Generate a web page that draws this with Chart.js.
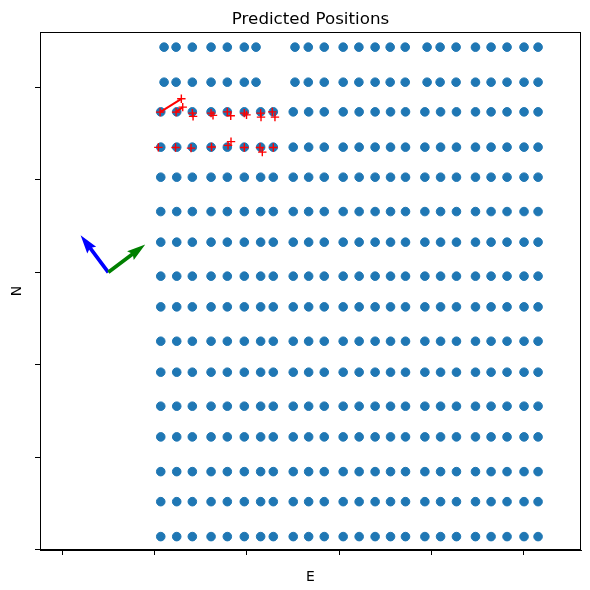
<!DOCTYPE html>
<html>
<head>
<meta charset="utf-8">
<script src="https://cdn.jsdelivr.net/npm/chart.js@4"></script>
<style>
  body { margin: 0; background: #fff; }
</style>
</head>
<body>
<canvas id="myChart" width="590" height="590"></canvas>
<script>
// grid of known positions (E, N)
var fullRowE = [10.68, 12.41, 14.10, 16.13, 17.89, 19.73, 21.50, 22.87, 25.03, 26.70, 28.39, 30.44,
                32.17, 33.90, 35.57, 37.19, 39.29, 40.99, 42.71, 44.77, 46.46, 48.19, 50.03, 51.55];
var shortRowE = [11.04, 12.34, 14.10, 16.13, 17.89, 19.73, 21.00, 25.22, 26.66, 28.39, 30.44, 32.14,
                 33.90, 35.53, 37.16, 39.53, 40.94, 42.67, 44.77, 46.46, 48.19, 50.03, 51.55];
var shortRowsN = [54.36, 50.57];
var fullRowsN = [47.36, 43.54, 40.29, 36.57, 33.26, 29.58, 26.26, 22.54, 19.19, 15.51, 12.19, 8.43, 5.18, 1.40];

// predicted positions
var predE = [10.61, 12.34, 12.91, 13.06, 14.10, 14.18, 16.13, 16.34, 17.89, 18.26, 19.73, 19.97, 21.50, 21.54, 22.76, 23.05,
             10.42, 12.28, 13.96, 16.18, 17.97, 18.29, 19.73, 21.43, 21.68, 22.87];
var predN = [47.33, 47.33, 48.77, 47.87, 47.22, 46.87, 47.22, 46.98, 47.36, 46.93, 47.22, 47.03, 47.22, 46.79, 47.36, 46.79,
             43.52, 43.50, 43.43, 43.55, 43.73, 44.14, 43.50, 43.50, 43.00, 43.50];

// predicted tracks
var track1E = [10.61, 12.91];
var track1N = [47.33, 48.77];
var track2E = [12.34, 13.06];
var track2N = [47.33, 47.87];

// orientation arrows
var arrowE = [5, 5];
var arrowN = [30, 30];
var arrowU = [-3, 4];
var arrowV = [4, 3];
var arrowColors = ['#0000ff', '#008000'];

var xTicks = [0, 10, 20, 30, 40, 50];
var yTicks = [0, 10, 20, 30, 40, 50];

var gridPts = [];
shortRowsN.forEach(function(n){ shortRowE.forEach(function(e){ gridPts.push({x: e, y: n}); }); });
fullRowsN.forEach(function(n){ fullRowE.forEach(function(e){ gridPts.push({x: e, y: n}); }); });

var predPts = predE.map(function(e, i){ return {x: e, y: predN[i]}; });
function pts(es, ns) { return es.map(function(e, i){ return {x: e, y: ns[i]}; }); }

var frameAndText = {
  id: 'frameAndText',
  beforeDraw: function(chart) {
    var c = chart.ctx;
    c.save();
    c.fillStyle = '#fff';
    c.fillRect(0, 0, chart.width, chart.height);
    c.restore();
  },
  afterDatasetsDraw: function(chart) {
    var c = chart.ctx, xs = chart.scales.x, ys = chart.scales.y;
    c.save();
    // arrows like quiver
    var w = 3.7;
    for (var i = 0; i < arrowE.length; i++) {
      var x0 = xs.getPixelForValue(arrowE[i]), y0 = ys.getPixelForValue(arrowN[i]);
      var x1 = xs.getPixelForValue(arrowE[i] + arrowU[i]), y1 = ys.getPixelForValue(arrowN[i] + arrowV[i]);
      var L = Math.hypot(x1 - x0, y1 - y0);
      var ang = Math.atan2(y1 - y0, x1 - x0);
      c.save();
      c.translate(x0, y0);
      c.rotate(ang);
      c.beginPath();
      c.moveTo(0, -w / 2);
      c.lineTo(L - 4.5 * w, -w / 2);
      c.lineTo(L - 5 * w, -1.5 * w);
      c.lineTo(L, 0);
      c.lineTo(L - 5 * w, 1.5 * w);
      c.lineTo(L - 4.5 * w, w / 2);
      c.lineTo(0, w / 2);
      c.closePath();
      c.fillStyle = arrowColors[i];
      c.fill();
      c.restore();
    }
    c.restore();
  },
  afterDraw: function(chart) {
    var c = chart.ctx, a = chart.chartArea;
    c.save();
    c.strokeStyle = '#000';
    c.lineWidth = 1;
    c.strokeRect(Math.round(a.left) + 0.5, Math.round(a.top) + 0.5,
                 Math.round(a.right - a.left) - 1, Math.round(a.bottom - a.top) - 1);
    c.fillStyle = '#000';
    c.textAlign = 'center';
    c.textBaseline = 'alphabetic';
    c.font = '16.7px "DejaVu Sans"';
    c.fillText('Predicted Positions', (a.left + a.right) / 2, 24);
    c.font = '13.9px "DejaVu Sans"';
    c.fillText('E', (a.left + a.right) / 2, 581);
    c.translate(20.7, (a.top + a.bottom) / 2);
    c.rotate(-Math.PI / 2);
    c.fillText('N', 0, 0);
    c.restore();
  }
};

var axisOpts = function(min, max, ticks) {
  return {
    type: 'linear',
    min: min,
    max: max,
    afterBuildTicks: function(scale) {
      scale.ticks = ticks.map(function(v){ return {value: v}; });
    },
    ticks: { display: false },
    grid: { display: true, drawOnChartArea: false, drawTicks: true, tickLength: 5, color: '#000', lineWidth: 1 },
    border: { display: true, color: '#000', width: 1 },
    title: { display: false }
  };
};

const ctx = document.getElementById('myChart');
const myChart = new Chart(ctx, {
  type: 'scatter',
  data: {
    datasets: [
      {
        label: 'track1', type: 'line', data: pts(track1E, track1N), showLine: true,
        borderColor: '#ff0000', borderWidth: 2, pointRadius: 0, fill: false, order: 1
      },
      {
        label: 'track2', type: 'line', data: pts(track2E, track2N), showLine: true,
        borderColor: '#ff0000', borderWidth: 2, pointRadius: 0, fill: false, order: 1
      },
      {
        label: 'predicted', data: predPts, pointStyle: 'cross', pointRadius: 4.2,
        borderColor: '#ff0000', backgroundColor: '#ff0000', borderWidth: 1.4, order: 1
      },
      {
        label: 'positions', data: gridPts, pointStyle: 'circle', pointRadius: 4.3,
        backgroundColor: '#1f77b4', borderColor: '#1f77b4', borderWidth: 1, order: 2
      }
    ]
  },
  options: {
    responsive: false,
    animation: false,
    layout: { padding: { left: 35, right: 9, top: 32, bottom: 35 } },
    plugins: {
      legend: { display: false },
      tooltip: { enabled: false },
      title: { display: false }
    },
    scales: {
      x: axisOpts(-2.4, 56.2, xTicks),
      y: axisOpts(-0.05, 56.0, yTicks)
    }
  },
  plugins: [frameAndText]
});
</script>
</body>
</html>
